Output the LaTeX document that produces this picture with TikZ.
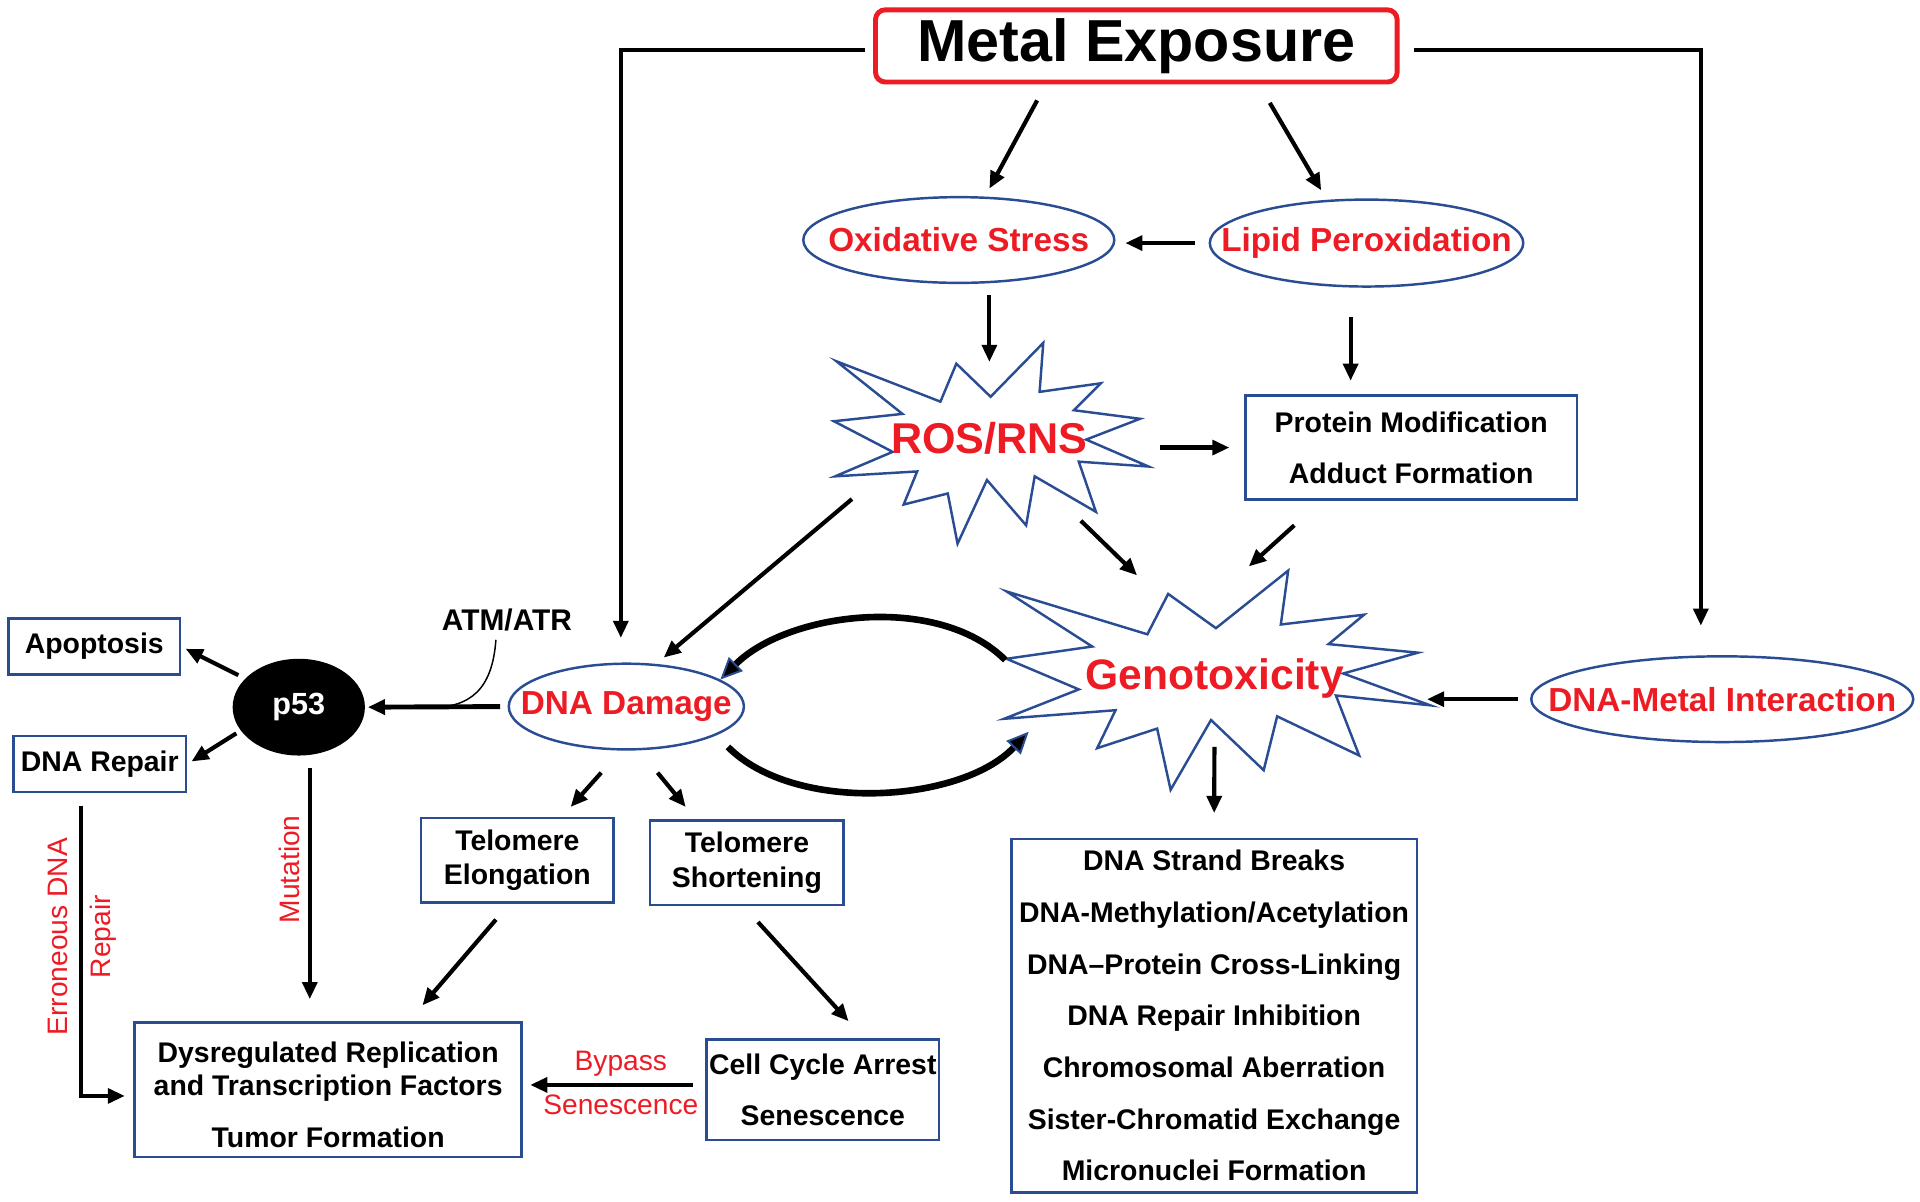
\documentclass[tikz,border=0pt]{standalone}
\usepackage{fontspec}
\setmainfont{Liberation Sans}
\usepackage{tikz}
\usetikzlibrary{shapes,arrows.meta}

\definecolor{boxblue}{RGB}{41,76,146}
\definecolor{hotred}{RGB}{237,28,36}

\begin{document}
\begin{tikzpicture}[x=0.5pt,y=0.5pt,yscale=-1,
  bx/.style={draw=boxblue, line width=1pt, inner sep=0pt, align=center,
    font=\fontsize{11.6}{21}\selectfont\bfseries},
  ov/.style={ellipse, draw=boxblue, line width=1pt, inner sep=0pt,
    label={[text=hotred, font=\fontsize{13.6}{16}\selectfont\bfseries]center:#1}},
  burst/.style={draw=boxblue, line width=1pt, fill=white, line join=miter},
  arr/.style={line width=1.7pt, -{Triangle[length=7pt,width=6pt]}},
  loopy/.style={line width=2.7pt, -{Triangle[length=9pt,width=8pt,fill=black,color=boxblue,line width=0.8pt]}},
  redlbl/.style={text=hotred, inner sep=0pt, font=\fontsize{11.5}{13}\selectfont}
]
\useasboundingbox (0,0) rectangle (1568,981);

%Shape: Star [ROS/RNS]
\draw[burst] (683,295) -- (768,328) -- (781,297) -- (809,324) -- (852,280) -- (849,320)
  -- (899,313) -- (877,335) -- (931,342) -- (887,359) -- (938,381) -- (881,377)
  -- (895,418) -- (845,389) -- (838,429) -- (806,392) -- (782,444) -- (774,403)
  -- (738,412) -- (749,385) -- (682,389) -- (729,369) -- (681,344) -- (737,338) -- cycle;
%Shape: Star [Genotoxicity]
\draw[burst] (822,483) -- (937,518) -- (954,485) -- (993,513) -- (1052,466) -- (1046,510)
  -- (1114,502) -- (1085,526) -- (1158,533) -- (1097,550) -- (1168,576) -- (1091,568)
  -- (1110,617) -- (1043,585) -- (1032,629) -- (989,588) -- (956,645) -- (945,595)
  -- (896,611) -- (911,580) -- (820,587) -- (881,563) -- (822,538) -- (892,528) -- cycle;

% Text Node
\node[draw=hotred, line width=2pt, rounded corners=4pt, minimum width=213pt, minimum height=29.5pt,
  inner sep=0pt, font=\fontsize{24.2}{28}\selectfont\bfseries] (metal) at (928,37.5) {Metal Exposure};

%Shape: Ellipse
\node[ov=Oxidative Stress, minimum width=127pt, minimum height=35pt] (oxid) at (783,196) {};
\node[ov=Lipid Peroxidation, minimum width=128pt, minimum height=35.5pt] (lipid) at (1116,198.5) {};
\node[ov=DNA Damage, minimum width=96pt, minimum height=35pt] (dnadmg) at (511.5,577) {};
\node[ov=DNA-Metal Interaction, minimum width=156pt, minimum height=35pt] (dnametal) at (1406.5,571) {};

% Text Node
\node[ellipse, inner sep=0pt, minimum width=129pt, minimum height=82pt, text=hotred,
  font=\fontsize{17.6}{20}\selectfont\bfseries] (ros) at (808,358) {ROS/RNS};
\node[ellipse, inner sep=0pt, minimum width=173pt, minimum height=90pt, text=hotred,
  font=\fontsize{17.4}{20}\selectfont\bfseries] (geno) at (992,554) {Genotoxicity};
\node[ellipse, fill=black, inner sep=0pt, minimum width=54pt, minimum height=39.5pt, text=white,
  font=\fontsize{12.5}{14}\selectfont\bfseries] (p53) at (244,577.5) {p53};
\node[inner sep=0pt, font=\fontsize{12.2}{14}\selectfont\bfseries] (atm) at (414,506) {ATM/ATR};

%Shape: Rectangle
\node[bx, minimum width=135.5pt, minimum height=42.5pt] (protein) at (1152.5,365.5) {Protein Modification\\Adduct Formation};
\node[bx, minimum width=70pt, minimum height=23pt] (apop) at (77,528) {Apoptosis};
\node[bx, minimum width=70.5pt, minimum height=23pt] (dnarep) at (81.5,624) {DNA Repair};
\node[bx, minimum width=78.5pt, minimum height=34.5pt, font=\fontsize{11.6}{14}\selectfont\bfseries] (telE) at (422.5,702.5) {Telomere\\Elongation};
\node[bx, minimum width=79pt, minimum height=34.5pt, font=\fontsize{11.6}{14}\selectfont\bfseries] (telS) at (610,704.5) {Telomere\\Shortening};
\node[bx, minimum width=158pt, minimum height=55pt, font=\fontsize{11.6}{13.5}\selectfont\bfseries] (dysreg) at (268,890)
  {\rule{0pt}{12.5pt}Dysregulated Replication\\and Transcription Factors\\[8pt]Tumor Formation};
\node[bx, minimum width=95pt, minimum height=41pt] (cca) at (672,890) {Cell Cycle Arrest\\Senescence};
\node[bx, minimum width=165.5pt, minimum height=144.5pt, font=\fontsize{11.6}{21.1}\selectfont\bfseries] (effects) at (991.5,829.5)
  {DNA Strand Breaks\\DNA-Methylation/Acetylation\\DNA--Protein Cross-Linking\\DNA Repair Inhibition\\Chromosomal Aberration\\Sister-Chromatid Exchange\\Micronuclei Formation};

% Text Node
\node[redlbl, rotate=90] (errdna) at (47,765) {Erroneous DNA};
\node[redlbl, rotate=90] (errrep) at (84,765) {Repair};
\node[redlbl, rotate=90] (mut) at (236,710) {Mutation};
\node[redlbl] (bypass) at (507,869) {Bypass};
\node[redlbl] (senes) at (507,902) {Senescence};

%Straight Lines
\draw[arr] ([shift={(-81,13)}]metal.south) -- ([shift={(25,-6)}]oxid.north);
\draw[arr] ([shift={(109,15)}]metal.south) -- ([shift={(-37,-6.5)}]lipid.north);
\draw[arr, shorten <=5.5pt, shorten >=4pt] (lipid.west) -- (lipid.west -| oxid.east);
\draw[arr, shorten <=4.5pt] (oxid.south -| ros.north) -- ([shift={(0,20)}]ros.north);
\draw[arr] ([shift={(-13,24)}]lipid.south) -- ([shift={(-49.5,-11)}]protein.north);
\draw[arr, shorten <=5pt, shorten >=6pt] (protein.west -| ros.east) -- (protein.west);
\draw[arr] (ros.-42) -- (geno.127);
\draw[arr, shorten >=1.5pt] ([shift={(41,20)}]protein.south west) -- (geno.74);
\draw[arr, shorten <=3pt, shorten >=4pt] (ros.203) -- (dnadmg.55);
\draw[arr] ([shift={(-7,3.5)}]metal.west) -| ([shift={(-4.5,-20)}]dnadmg.north);
\draw[arr] ([shift={(12,3.5)}]metal.east) -| ([shift={(-17.5,-24)}]dnametal.north);
\draw[arr, shorten <=5pt] (dnametal.west) -- (dnametal.west -| geno.east);
\draw[arr, shorten <=28pt, shorten >=10pt] (geno.center) -- (effects.north);

%Curve Lines
\draw[loopy] (geno.175) .. controls +(-55,-55) and +(55,-55) .. (dnadmg.16);
\draw[loopy] ([shift={(-14,33)}]dnadmg.east) .. controls +(55,55) and +(-55,58) .. (geno.196);

%Straight Lines
\draw[arr, line width=2pt, shorten <=3pt, shorten >=1pt] (dnadmg.west) -- (p53.east);
\coordinate (atmjoin) at (350,578);
\draw[line width=0.6pt] ([shift={(-9,7)}]atm.south) .. controls +(-3,40) and +(35,0) .. (atmjoin);
\draw[arr, shorten <=3pt, shorten >=2pt] (p53.152) -- (apop.east);
\draw[arr, shorten <=2pt, shorten >=2pt] (p53.202) -- (dnarep.east);
\draw[arr] ([shift={(-15.5,10)}]dnarep.south) |- ([shift={(-7,5)}]dysreg.west);
\draw[arr] ([shift={(9,10)}]p53.south) -- ([shift={(-15,-18)}]dysreg.north);
\draw[arr] ([shift={(-20.5,18)}]dnadmg.south) -- ([shift={(43.5,-8)}]telE.north);
\draw[arr] ([shift={(25.5,18)}]dnadmg.south) -- ([shift={(-50,-10)}]telS.north);
\draw[arr] ([shift={(-17.5,13)}]telE.south) -- ([shift={(77,-13)}]dysreg.north);
\draw[arr] ([shift={(9,13)}]telS.south) -- ([shift={(21,-14)}]cca.north);
\draw[arr, shorten <=5pt, shorten >=3pt] ([shift={(0,-4)}]cca.west) -- ([shift={(0,-4)}]cca.west -| dysreg.east);

\end{tikzpicture}
\end{document}
